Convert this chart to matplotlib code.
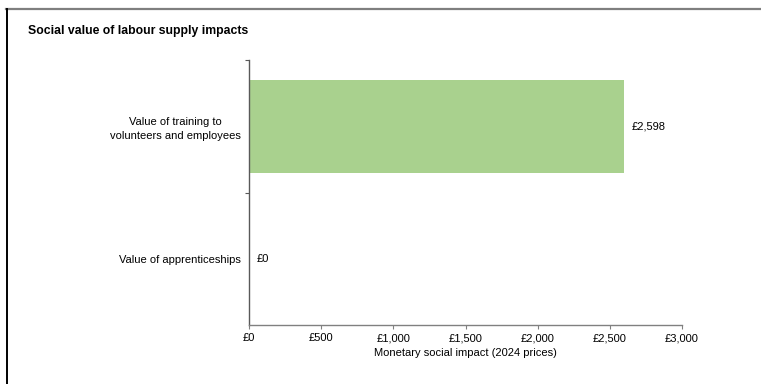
import matplotlib
matplotlib.use("Agg")
import matplotlib.pyplot as plt
from matplotlib.lines import Line2D

plt.rcParams['font.family'] = ['Liberation Sans', 'DejaVu Sans']

# data
categories = ["Value of apprenticeships", "Value of training to\nvolunteers and employees"]
values = [0, 2598]
xticks = [0, 500, 1000, 1500, 2000, 2500, 3000]

fig = plt.figure(figsize=(7.61, 3.84), dpi=100)
ax = fig.add_axes([249 / 761, 1 - 325 / 384, 433 / 761, 265 / 384])

pos = list(range(len(categories)))
ax.barh(pos, values, height=0.705, color="#A9D18E", zorder=2)

ax.set_xlim(0, 3000)
ax.set_ylim(-0.5, len(categories) - 0.5)

# axis styling
for s in ["top", "right"]:
    ax.spines[s].set_visible(False)
ax.spines["left"].set_color("#595959")
ax.spines["bottom"].set_color("#808080")
ax.spines["left"].set_linewidth(1.0)
ax.spines["bottom"].set_linewidth(1.0)

ax.set_xticks(xticks)
ax.set_xticklabels(["£{:,}".format(v) for v in xticks], fontsize=8)
ax.tick_params(axis="x", length=3, width=0.8, color="#808080", pad=3)

ax.set_yticks(pos)
ax.set_yticklabels(categories, fontsize=8)
for lbl in ax.get_yticklabels():
    lbl.set_multialignment("center")
    lbl.set_linespacing(1.45)
ax.tick_params(axis="y", which="major", length=0, pad=6)
ax.set_yticks([p + 0.5 for p in pos], minor=True)
ax.tick_params(axis="y", which="minor", length=3, width=0.8, color="#595959")

ax.set_xlabel("Monetary social impact (2024 prices)", fontsize=8, labelpad=3)

# value labels
for p, v in zip(pos, values):
    ax.annotate("£{:,}".format(v), xy=(v, p), xytext=(5.5, 0),
                textcoords="offset points", ha="left", va="center", fontsize=8)

fig.text(28 / 761, 1 - 31 / 384, "Social value of labour supply impacts",
         fontsize=8.8, fontweight="bold", ha="left", va="center")

# outer frame lines
fig.add_artist(Line2D([6 / 761, 1], [1 - 8.5 / 384, 1 - 8.5 / 384],
                      color="#7f7f7f", linewidth=1.6, transform=fig.transFigure))
fig.add_artist(Line2D([6.5 / 761, 6.5 / 761], [0, 1 - 8.5 / 384],
                      color="black", linewidth=1.4, transform=fig.transFigure))

fig.savefig("out.png", dpi=100)
